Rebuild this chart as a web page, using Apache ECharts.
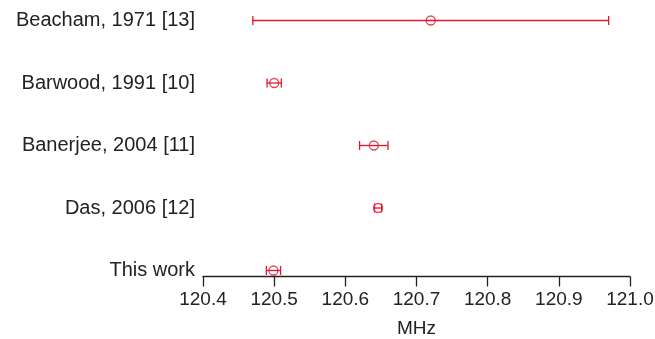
<!DOCTYPE html>
<html><head><meta charset="utf-8">
<script src="https://cdn.jsdelivr.net/npm/echarts@6/dist/echarts.min.js"></script>
<style>html,body{margin:0;padding:0;background:#fff}#c{width:655px;height:339px}</style>
</head><body><div id="c"></div>
<script>
const studies = ['This work', 'Das, 2006 [12]', 'Banerjee, 2004 [11]', 'Barwood, 1991 [10]', 'Beacham, 1971 [13]'];
const values = [120.499, 120.646, 120.640, 120.500, 120.720];
const errors = [0.010, 0.005, 0.020, 0.010, 0.250];
const xTicks = [120.4, 120.5, 120.6, 120.7, 120.8, 120.9, 121.0];

const red = '#e3162f';
const chart = echarts.init(document.getElementById('c'), null, {renderer: 'canvas'});
const barData = studies.map((s, i) => [values[i] - errors[i], values[i] + errors[i], i]);
const ptData = studies.map((s, i) => [values[i], i]);

chart.setOption({
  animation: false,
  grid: {left: 203, right: 25, top: 20.5, bottom: 68.5, containLabel: false, outerBoundsMode: 'none'},
  xAxis: {
    type: 'value', min: xTicks[0], max: xTicks[xTicks.length - 1], interval: 0.1,
    offset: 6,
    axisLine: {show: true, lineStyle: {color: '#222', width: 1.3}},
    axisTick: {show: true, length: 10, lineStyle: {color: '#222', width: 1.3}},
    splitLine: {show: false},
    axisLabel: {color: '#222', fontSize: 19, fontFamily: 'Liberation Sans, Arial', margin: 14,
      formatter: v => v.toFixed(1)},
    name: 'MHz', nameLocation: 'middle', nameGap: 43,
    nameTextStyle: {color: '#222', fontSize: 19, fontFamily: 'Liberation Sans, Arial'}
  },
  yAxis: {
    type: 'category', data: studies, boundaryGap: false,
    axisLine: {show: false}, axisTick: {show: false}, splitLine: {show: false},
    axisLabel: {color: '#222', fontSize: 20, fontFamily: 'Liberation Sans, Arial', margin: 8}
  },
  series: [
    {
      type: 'custom',
      data: barData,
      encode: {x: [0, 1], y: 2},
      renderItem: function (params, api) {
        const y = api.value(2);
        const p1 = api.coord([api.value(0), y]);
        const p2 = api.coord([api.value(1), y]);
        const h = 4.5;
        const st = {stroke: red, lineWidth: 1.3};
        return {type: 'group', children: [
          {type: 'line', shape: {x1: p1[0], y1: p1[1], x2: p2[0], y2: p2[1]}, style: st},
          {type: 'line', shape: {x1: p1[0], y1: p1[1] - h, x2: p1[0], y2: p1[1] + h}, style: st},
          {type: 'line', shape: {x1: p2[0], y1: p2[1] - h, x2: p2[0], y2: p2[1] + h}, style: st}
        ]};
      }
    },
    {
      type: 'scatter', data: ptData, symbol: 'circle', symbolSize: 9,
      itemStyle: {color: 'rgba(0,0,0,0)', borderColor: red, borderWidth: 1.3}
    }
  ]
});
</script>
</body></html>
